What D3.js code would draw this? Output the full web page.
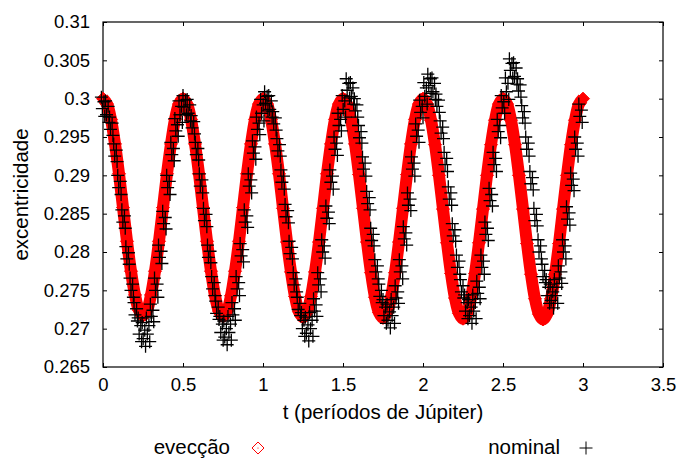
<!DOCTYPE html>
<html>
<head>
<meta charset="utf-8">
<script src="https://cdn.jsdelivr.net/npm/d3@7"></script>
<style>
  body { margin: 0; background: #fff; }
  text { font-family: "Liberation Sans", Arial, sans-serif; }
</style>
</head>
<body>
<svg id="chart" width="683" height="458"></svg>
<script>
const xTicks = [0, 0.5, 1, 1.5, 2, 2.5, 3, 3.5]
const xTickLabels = ["0", "0.5", "1", "1.5", "2", "2.5", "3", "3.5"]
const yTicks = [0.265, 0.27, 0.275, 0.28, 0.285, 0.29, 0.295, 0.3, 0.305, 0.31]
const yTickLabels = ["0.265", "0.27", "0.275", "0.28", "0.285", "0.29", "0.295", "0.3", "0.305", "0.31"]
const seriesNames = ["evecção", "nominal"]

// evecção: t (periodos de Jupiter) and excentricidade
const evecT = [
  0.000, 0.025, 0.050, 0.075, 0.100, 0.125, 0.150, 0.175, 0.200, 0.225,
  0.250, 0.275, 0.300, 0.325, 0.350, 0.375, 0.400, 0.425, 0.450, 0.475,
  0.500, 0.525, 0.550, 0.575, 0.600, 0.625, 0.650, 0.675, 0.700, 0.725,
  0.750, 0.775, 0.800, 0.825, 0.850, 0.875, 0.900, 0.925, 0.950, 0.975,
  1.000, 1.025, 1.050, 1.075, 1.100, 1.125, 1.150, 1.175, 1.200, 1.225,
  1.250, 1.275, 1.300, 1.325, 1.350, 1.375, 1.400, 1.425, 1.450, 1.475,
  1.500, 1.525, 1.550, 1.575, 1.600, 1.625, 1.650, 1.675, 1.700, 1.725,
  1.750, 1.775, 1.800, 1.825, 1.850, 1.875, 1.900, 1.925, 1.950, 1.975,
  2.000, 2.025, 2.050, 2.075, 2.100, 2.125, 2.150, 2.175, 2.200, 2.225,
  2.250, 2.275, 2.300, 2.325, 2.350, 2.375, 2.400, 2.425, 2.450, 2.475,
  2.500, 2.525, 2.550, 2.575, 2.600, 2.625, 2.650, 2.675, 2.700, 2.725,
  2.750, 2.775, 2.800, 2.825, 2.850, 2.875, 2.900, 2.925, 2.950, 2.975,
  3.000
]
const evecE = [
  0.3000, 0.2993, 0.2973, 0.2941, 0.2902, 0.2858, 0.2814, 0.2775, 0.2744, 0.2724,
  0.2717, 0.2724, 0.2744, 0.2775, 0.2814, 0.2858, 0.2902, 0.2941, 0.2973, 0.2993,
  0.3000, 0.2993, 0.2973, 0.2941, 0.2902, 0.2858, 0.2814, 0.2775, 0.2743, 0.2723,
  0.2716, 0.2723, 0.2743, 0.2775, 0.2814, 0.2858, 0.2902, 0.2941, 0.2973, 0.2993,
  0.3000, 0.2993, 0.2973, 0.2941, 0.2902, 0.2857, 0.2813, 0.2774, 0.2742, 0.2722,
  0.2715, 0.2722, 0.2742, 0.2774, 0.2813, 0.2857, 0.2902, 0.2941, 0.2973, 0.2993,
  0.3000, 0.2993, 0.2973, 0.2941, 0.2901, 0.2857, 0.2813, 0.2773, 0.2741, 0.2721,
  0.2714, 0.2721, 0.2741, 0.2773, 0.2813, 0.2857, 0.2901, 0.2941, 0.2973, 0.2993,
  0.3000, 0.2993, 0.2972, 0.2940, 0.2900, 0.2856, 0.2812, 0.2772, 0.2740, 0.2720,
  0.2713, 0.2720, 0.2740, 0.2772, 0.2812, 0.2856, 0.2900, 0.2940, 0.2972, 0.2993,
  0.3000, 0.2993, 0.2972, 0.2940, 0.2900, 0.2856, 0.2811, 0.2771, 0.2739, 0.2719,
  0.2712, 0.2719, 0.2739, 0.2771, 0.2811, 0.2856, 0.2900, 0.2940, 0.2972, 0.2993,
  0.3000
]

// nominal: output comes in bunches of four samples
const nomT = [
  0.000, 0.026, 0.051, 0.077, 0.102, 0.128, 0.153, 0.179, 0.204, 0.230,
  0.255, 0.281, 0.306, 0.332, 0.357, 0.383, 0.408, 0.434, 0.459, 0.485,
  0.510, 0.536, 0.561, 0.587, 0.612, 0.638, 0.663, 0.689, 0.714, 0.740,
  0.765, 0.791, 0.816, 0.842, 0.867, 0.893, 0.918, 0.944, 0.969, 0.995,
  1.020, 1.046, 1.071, 1.097, 1.122, 1.148, 1.173, 1.199, 1.224, 1.250,
  1.275, 1.301, 1.326, 1.352, 1.377, 1.403, 1.428, 1.454, 1.479, 1.505,
  1.530, 1.556, 1.581, 1.607, 1.632, 1.658, 1.683, 1.709, 1.734, 1.760,
  1.785, 1.811, 1.836, 1.862, 1.887, 1.913, 1.938, 1.964, 1.989, 2.015,
  2.040, 2.066, 2.091, 2.117, 2.142, 2.168, 2.193, 2.219, 2.244, 2.270,
  2.295, 2.321, 2.346, 2.372, 2.397, 2.423, 2.448, 2.474, 2.499, 2.525,
  2.550, 2.576, 2.601, 2.627, 2.652, 2.678, 2.703, 2.729, 2.754, 2.780,
  2.805, 2.831, 2.856, 2.882, 2.907, 2.933, 2.958, 2.984
]
// time of each of the four samples inside a bunch, relative to nomT
const nomDt = [-0.010, 0.006, -0.004, 0.011]
const nomE = [
  [0.3002, 0.2996, 0.2987, 0.2977], [0.2997, 0.2990, 0.2979, 0.2969], [0.2976, 0.2968, 0.2960, 0.2952], [0.2941, 0.2933, 0.2925, 0.2918],
  [0.2900, 0.2892, 0.2884, 0.2875], [0.2855, 0.2847, 0.2839, 0.2831], [0.2807, 0.2799, 0.2791, 0.2784], [0.2766, 0.2758, 0.2750, 0.2741],
  [0.2734, 0.2726, 0.2718, 0.2710], [0.2714, 0.2704, 0.2693, 0.2683], [0.2708, 0.2698, 0.2687, 0.2677], [0.2714, 0.2704, 0.2693, 0.2683],
  [0.2732, 0.2724, 0.2716, 0.2709], [0.2766, 0.2758, 0.2750, 0.2741], [0.2809, 0.2801, 0.2793, 0.2785], [0.2853, 0.2845, 0.2837, 0.2830],
  [0.2900, 0.2892, 0.2884, 0.2875], [0.2943, 0.2935, 0.2927, 0.2919], [0.2974, 0.2966, 0.2958, 0.2951], [0.2997, 0.2990, 0.2979, 0.2969],

  [0.3004, 0.2998, 0.2989, 0.2979], [0.2999, 0.2992, 0.2981, 0.2971], [0.2978, 0.2970, 0.2962, 0.2954], [0.2943, 0.2935, 0.2927, 0.2920],
  [0.2902, 0.2894, 0.2886, 0.2877], [0.2857, 0.2849, 0.2841, 0.2833], [0.2809, 0.2801, 0.2793, 0.2786], [0.2768, 0.2760, 0.2752, 0.2743],
  [0.2736, 0.2728, 0.2720, 0.2712], [0.2716, 0.2706, 0.2695, 0.2685], [0.2710, 0.2700, 0.2689, 0.2679], [0.2716, 0.2706, 0.2695, 0.2685],
  [0.2734, 0.2726, 0.2718, 0.2711], [0.2768, 0.2760, 0.2752, 0.2743], [0.2811, 0.2803, 0.2795, 0.2787], [0.2855, 0.2847, 0.2839, 0.2832],
  [0.2902, 0.2894, 0.2886, 0.2877], [0.2945, 0.2937, 0.2929, 0.2921], [0.2976, 0.2968, 0.2960, 0.2953], [0.2999, 0.2992, 0.2981, 0.2971],

  [0.3009, 0.3003, 0.2994, 0.2984], [0.3004, 0.2997, 0.2986, 0.2976], [0.2983, 0.2975, 0.2967, 0.2959], [0.2948, 0.2940, 0.2932, 0.2925],
  [0.2907, 0.2899, 0.2891, 0.2882], [0.2862, 0.2854, 0.2846, 0.2838], [0.2814, 0.2806, 0.2798, 0.2791], [0.2773, 0.2765, 0.2757, 0.2748],
  [0.2741, 0.2733, 0.2725, 0.2717], [0.2721, 0.2711, 0.2700, 0.2690], [0.2715, 0.2705, 0.2694, 0.2684], [0.2721, 0.2711, 0.2700, 0.2690],
  [0.2739, 0.2731, 0.2723, 0.2716], [0.2773, 0.2765, 0.2757, 0.2748], [0.2816, 0.2808, 0.2800, 0.2792], [0.2860, 0.2852, 0.2844, 0.2837],
  [0.2907, 0.2899, 0.2891, 0.2882], [0.2950, 0.2942, 0.2934, 0.2926], [0.2981, 0.2973, 0.2965, 0.2958], [0.3004, 0.2997, 0.2986, 0.2976],

  [0.3026, 0.3020, 0.3011, 0.3001], [0.3021, 0.3014, 0.3003, 0.2993], [0.3000, 0.2992, 0.2984, 0.2976], [0.2965, 0.2957, 0.2949, 0.2942],
  [0.2924, 0.2916, 0.2908, 0.2899], [0.2879, 0.2871, 0.2863, 0.2855], [0.2831, 0.2823, 0.2815, 0.2808], [0.2790, 0.2782, 0.2774, 0.2765],
  [0.2758, 0.2750, 0.2742, 0.2734], [0.2738, 0.2728, 0.2717, 0.2707], [0.2732, 0.2722, 0.2711, 0.2701], [0.2738, 0.2728, 0.2717, 0.2707],
  [0.2756, 0.2748, 0.2740, 0.2733], [0.2790, 0.2782, 0.2774, 0.2765], [0.2833, 0.2825, 0.2817, 0.2809], [0.2877, 0.2869, 0.2861, 0.2854],
  [0.2924, 0.2916, 0.2908, 0.2899], [0.2967, 0.2959, 0.2951, 0.2943], [0.2998, 0.2990, 0.2982, 0.2975], [0.3021, 0.3014, 0.3003, 0.2993],

  [0.3032, 0.3026, 0.3017, 0.3007], [0.3027, 0.3020, 0.3009, 0.2999], [0.3006, 0.2998, 0.2990, 0.2982], [0.2971, 0.2963, 0.2955, 0.2948],
  [0.2930, 0.2922, 0.2914, 0.2905], [0.2885, 0.2877, 0.2869, 0.2861], [0.2837, 0.2829, 0.2821, 0.2814], [0.2796, 0.2788, 0.2780, 0.2771],
  [0.2764, 0.2756, 0.2748, 0.2740], [0.2744, 0.2734, 0.2723, 0.2713], [0.2738, 0.2728, 0.2717, 0.2707], [0.2744, 0.2734, 0.2723, 0.2713],
  [0.2762, 0.2754, 0.2746, 0.2739], [0.2796, 0.2788, 0.2780, 0.2771], [0.2839, 0.2831, 0.2823, 0.2815], [0.2883, 0.2875, 0.2867, 0.2860],
  [0.2930, 0.2922, 0.2914, 0.2905], [0.2973, 0.2965, 0.2957, 0.2949], [0.3004, 0.2996, 0.2988, 0.2981], [0.3027, 0.3020, 0.3009, 0.2999],

  [0.3052, 0.3046, 0.3037, 0.3027], [0.3047, 0.3040, 0.3029, 0.3019], [0.3026, 0.3018, 0.3010, 0.3002], [0.2991, 0.2983, 0.2975, 0.2968],
  [0.2950, 0.2942, 0.2934, 0.2925], [0.2905, 0.2897, 0.2889, 0.2881], [0.2857, 0.2849, 0.2841, 0.2834], [0.2816, 0.2808, 0.2800, 0.2791],
  [0.2784, 0.2776, 0.2768, 0.2760], [0.2764, 0.2754, 0.2743, 0.2733], [0.2758, 0.2748, 0.2737, 0.2727], [0.2764, 0.2754, 0.2743, 0.2733],
  [0.2782, 0.2774, 0.2766, 0.2759], [0.2816, 0.2808, 0.2800, 0.2791], [0.2859, 0.2851, 0.2843, 0.2835], [0.2903, 0.2895, 0.2887, 0.2880],
  [0.2950, 0.2942, 0.2934, 0.2925], [0.2993, 0.2985, 0.2977, 0.2969]
]

const plotLeft = 103, plotRight = 663, plotTop = 22, plotBottom = 367
const tickFont = 18.5
const labelFont = 20.5
const svg = d3.select("#chart")

const x = d3.scaleLinear().domain([0, 3.5]).range([plotLeft, plotRight])
const y = d3.scaleLinear().domain([0.265, 0.31]).range([plotBottom, plotTop])

function diamondPath(r) {
  return "M0," + (-r) + "L" + r + ",0L0," + r + "L" + (-r) + ",0Z"
}
function plusPath(r) {
  return "M" + (-r) + ",0H" + r + "M0," + (-r) + "V" + r
}

// axes, gnuplot style: ticks pointing in, mirrored on top and right
const xAxis = svg.append("g").attr("transform", "translate(0," + plotBottom + ")")
  .call(d3.axisBottom(x).tickValues(xTicks).tickSizeInner(-4).tickSizeOuter(0).tickPadding(11)
    .tickFormat((d, i) => xTickLabels[i]))
const yAxis = svg.append("g").attr("transform", "translate(" + plotLeft + ",0)")
  .call(d3.axisLeft(y).tickValues(yTicks).tickSizeInner(-4).tickSizeOuter(0).tickPadding(13)
    .tickFormat((d, i) => yTickLabels[i]))
const xTop = svg.append("g").attr("transform", "translate(0," + plotTop + ")")
  .call(d3.axisTop(x).tickValues(xTicks).tickSizeInner(-4).tickSizeOuter(0).tickFormat(""))
const yRight = svg.append("g").attr("transform", "translate(" + plotRight + ",0)")
  .call(d3.axisRight(y).tickValues(yTicks).tickSizeInner(-4).tickSizeOuter(0).tickFormat(""))

for (const g of [xAxis, yAxis, xTop, yRight]) {
  g.select(".domain").remove()
  g.selectAll("line").attr("stroke", "#000").attr("stroke-width", 1)
  g.selectAll("text").attr("fill", "#000")
    .style("font-family", "'Liberation Sans', Arial, sans-serif")
    .style("font-size", tickFont + "px")
}

// plot border
svg.append("rect")
  .attr("x", plotLeft).attr("y", plotTop)
  .attr("width", plotRight - plotLeft).attr("height", plotBottom - plotTop)
  .attr("fill", "none").attr("stroke", "#000").attr("stroke-width", 1.2)

// evecção: dense red diamonds, drawn as a thick band plus markers
const evec = evecT.map((t, i) => [t, evecE[i]])
svg.append("path")
  .datum(evec)
  .attr("fill", "none")
  .attr("stroke", "#ff0000")
  .attr("stroke-width", 12)
  .attr("stroke-linejoin", "round")
  .attr("d", d3.line().x(d => x(d[0])).y(d => y(d[1])).curve(d3.curveCatmullRom))
svg.append("g").selectAll("path")
  .data(evec)
  .join("path")
  .attr("transform", d => "translate(" + x(d[0]) + "," + y(d[1]) + ")")
  .attr("d", diamondPath(6.5))
  .attr("fill", "#ff0000")
  .attr("stroke", "#ff0000")
  .attr("stroke-width", 1)

// nominal: black plus markers
const nominal = []
nomT.forEach((t, i) => nomE[i].forEach((e, j) => nominal.push([t + nomDt[j], e])))
svg.append("g").selectAll("path")
  .data(nominal)
  .join("path")
  .attr("transform", d => "translate(" + x(d[0]) + "," + y(d[1]) + ")")
  .attr("d", plusPath(6.5))
  .attr("fill", "none")
  .attr("stroke", "#000")
  .attr("stroke-width", 1.3)

// axis titles
svg.append("text")
  .attr("x", (plotLeft + plotRight) / 2).attr("y", 419)
  .attr("text-anchor", "middle")
  .style("font-size", labelFont + "px")
  .text("t (períodos de Júpiter)")
svg.append("text")
  .attr("transform", "translate(28," + (plotTop + plotBottom) / 2 + ") rotate(-90)")
  .attr("text-anchor", "middle")
  .style("font-size", labelFont + "px")
  .text("excentricidade")

// legend
svg.append("text")
  .attr("x", 230).attr("y", 454)
  .attr("text-anchor", "end")
  .style("font-size", labelFont + "px")
  .text(seriesNames[0])
svg.append("path")
  .attr("transform", "translate(258,448)")
  .attr("d", diamondPath(6))
  .attr("fill", "none")
  .attr("stroke", "#ff0000")
  .attr("stroke-width", 1)
svg.append("circle")
  .attr("cx", 258).attr("cy", 448).attr("r", 0.6)
  .attr("fill", "#ff0000")
svg.append("text")
  .attr("x", 560).attr("y", 454)
  .attr("text-anchor", "end")
  .style("font-size", labelFont + "px")
  .text(seriesNames[1])
svg.append("path")
  .attr("transform", "translate(586,448)")
  .attr("d", plusPath(6.5))
  .attr("fill", "none")
  .attr("stroke", "#000")
  .attr("stroke-width", 1)
</script>
</body>
</html>
